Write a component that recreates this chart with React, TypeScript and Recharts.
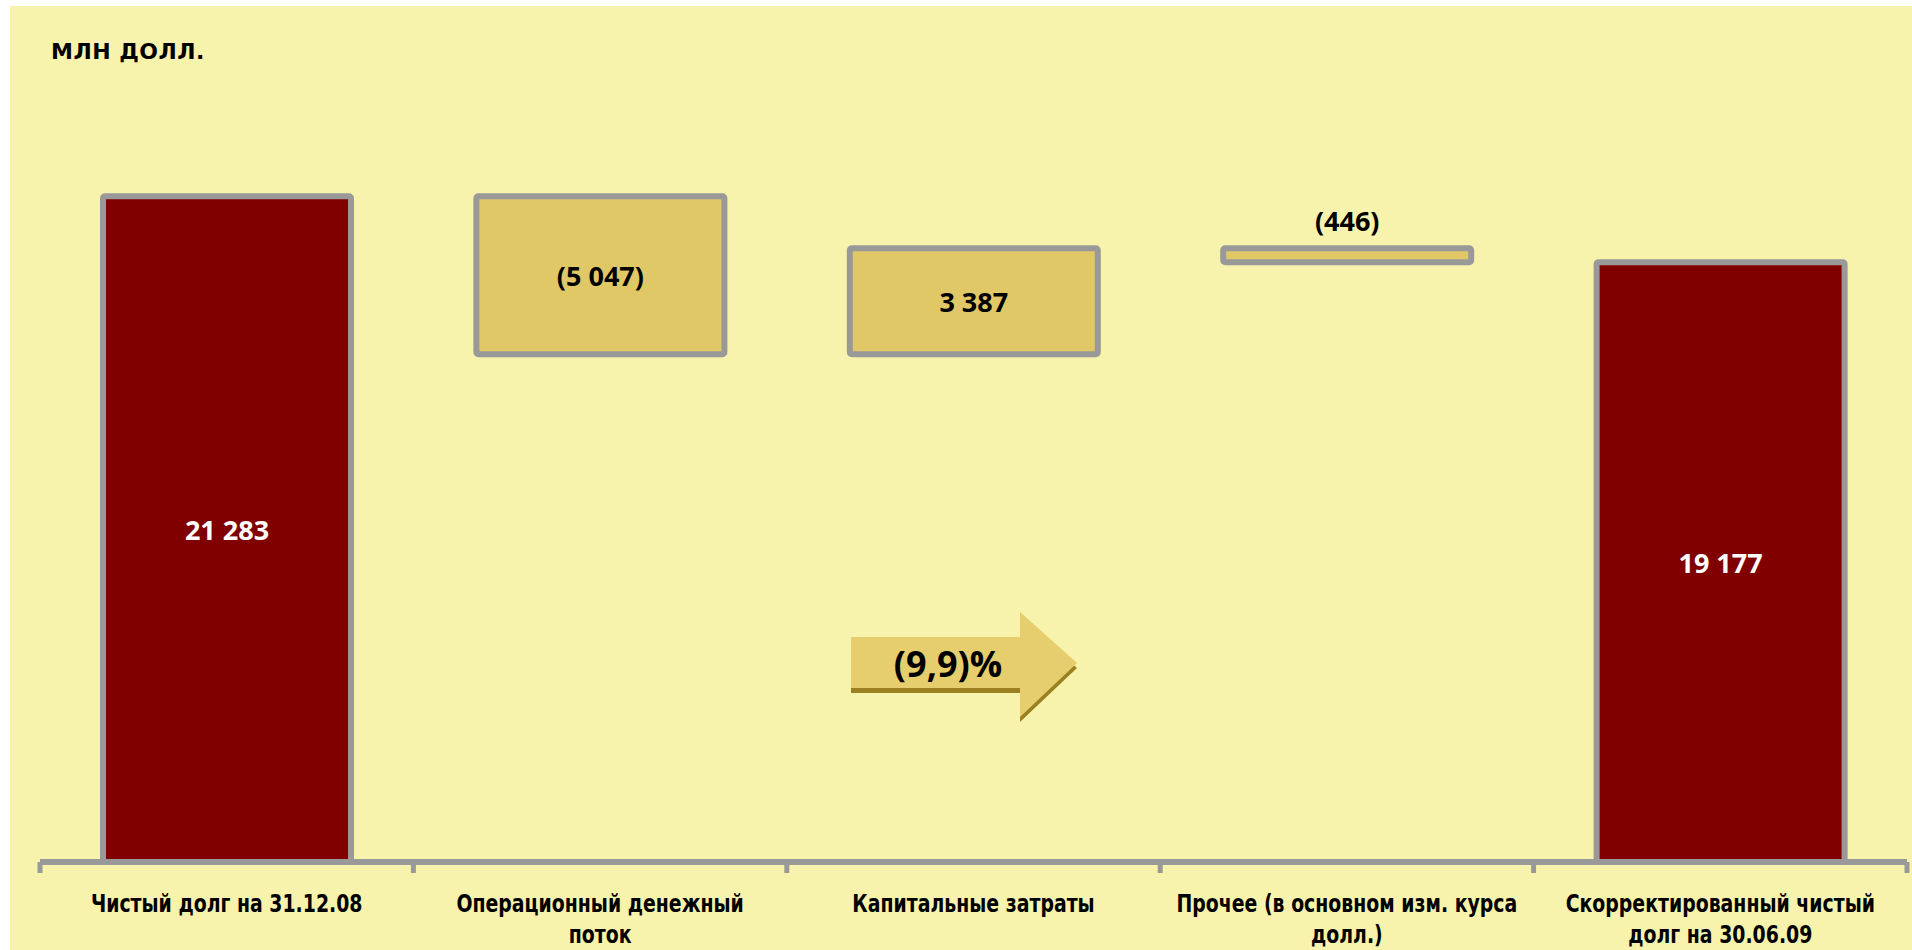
import { BarChart, Bar, XAxis, YAxis, LabelList } from 'recharts'

const categories = [
  'Чистый долг на 31.12.08',
  'Операционный денежный поток',
  'Капитальные затраты',
  'Прочее (в основном изм. курса долл.)',
  'Скорректированный чистый долг на 30.06.09',
]
const categoryLines = [
  ['Чистый долг на 31.12.08'],
  ['Операционный денежный', 'поток'],
  ['Капитальные затраты'],
  ['Прочее (в основном изм. курса', 'долл.)'],
  ['Скорректированный чистый', 'долг на 30.06.09'],
]
const changes = [21283, -5047, 3387, -446, 19177]
const isTotal = [true, false, false, false, true]
const changePct = '(9,9)%'

const W = 1912
const H = 950
const M = { top: 80, right: 5, bottom: 0, left: 40 }
const X_AXIS_H = 88
const AXIS_Y = H - M.bottom - X_AXIS_H
const BAND = (W - M.left - M.right) / categories.length

const BG = '#F7F3AC'
const DARK = '#800000'
const GOLD = '#E1C866'
const GREY = '#999999'

let running = 0
const data = categories.map((name, i) => {
  const v = changes[i]
  if (isTotal[i]) {
    running = v
    return { name, base: 0, size: v, value: v, total: true }
  }
  const next = running + v
  const row = { name, base: Math.min(running, next), size: Math.abs(v), value: v, total: false }
  running = next
  return row
})

function fmt(v: number) {
  const s = Math.abs(v).toString().replace(/\B(?=(\d{3})+(?!\d))/g, ' ')
  return v < 0 ? `(${s})` : s
}

function ValueLabel(props: any) {
  const { x, y, width, height, index } = props
  const d = data[index]
  const small = height < 40
  const cx = x + width / 2
  const cy = small ? y - 28 : y + height / 2
  return (
    <text
      x={cx}
      y={cy}
      textAnchor="middle"
      dominantBaseline="central"
      fontFamily="'Open Sans', sans-serif"
      fontWeight={700}
      fontSize={27}
      fill={d.total ? '#ffffff' : '#000000'}
    >
      {fmt(d.value)}
    </text>
  )
}

function CatTick(props: any) {
  const { x, index } = props
  const lines = categoryLines[index] || []
  const left = x - BAND / 2
  return (
    <g>
      <line x1={left} x2={left} y1={AXIS_Y} y2={AXIS_Y + 11} stroke={GREY} strokeWidth={5} />
      {index === categories.length - 1 && (
        <line x1={left + BAND} x2={left + BAND} y1={AXIS_Y} y2={AXIS_Y + 11} stroke={GREY} strokeWidth={5} />
      )}
      {lines.map((l, i) => (
        <text
          key={i}
          transform={`translate(${x},${AXIS_Y + 41 + i * 31}) scale(0.84,1)`}
          textAnchor="middle"
          dominantBaseline="central"
          fontFamily="'DejaVu Sans Condensed', 'DejaVu Sans', sans-serif"
          fontWeight={700}
          fontSize={25}
          fill="#000"
        >
          {l}
        </text>
      ))}
    </g>
  )
}

export default function App() {
  return (
    <div style={{ position: 'absolute', left: 0, top: 0, width: W, height: H, background: '#fff', overflow: 'hidden' }}>
      <div style={{ position: 'absolute', left: 10, top: 6, right: 0, bottom: 0, background: BG }} />
      <div
        style={{
          position: 'absolute',
          left: 51,
          top: 39,
          lineHeight: '26px',
          fontFamily: "'DejaVu Sans', sans-serif",
          fontWeight: 700,
          fontSize: 22,
          letterSpacing: 0.5,
          color: '#000',
        }}
      >
        МЛН ДОЛЛ.
      </div>
      <div style={{ position: 'absolute', left: 0, top: 0 }}>
        <BarChart width={W} height={H} data={data} margin={M} barSize={248}>
          <YAxis hide domain={[0, 25000]} />
          <XAxis
            dataKey="name"
            height={X_AXIS_H}
            interval={0}
            tickLine={false}
            axisLine={{ stroke: GREY, strokeWidth: 6 }}
            tick={<CatTick />}
          />
          <Bar dataKey="base" stackId="w" fill="transparent" isAnimationActive={false} />
          <Bar
            dataKey="size"
            stackId="w"
            stroke={GREY}
            strokeWidth={6}
            radius={2}
            isAnimationActive={false}
            shape={(p: any) => (
              <rect
                x={p.x}
                y={p.y}
                width={p.width}
                height={p.height}
                rx={2}
                fill={data[p.index].total ? DARK : GOLD}
                stroke={GREY}
                strokeWidth={6}
              />
            )}
          >
            <LabelList dataKey="value" content={<ValueLabel />} />
          </Bar>
        </BarChart>
      </div>
      <svg width={W} height={H} style={{ position: 'absolute', left: 0, top: 0, pointerEvents: 'none' }}>
        <polygon points="851,642 1020,642 1020,617 1077,668 1020,722 1020,693 851,693" fill="#9C8020" />
        <polygon points="851,637 1020,637 1020,612 1077,663 1020,717 1020,688 851,688" fill="#E6CE6E" />
        <text
          x={948}
          y={663}
          textAnchor="middle"
          dominantBaseline="central"
          fontFamily="'Open Sans', sans-serif"
          fontWeight={700}
          fontSize={36}
          fill="#000"
        >
          {changePct}
        </text>
      </svg>
    </div>
  )
}
